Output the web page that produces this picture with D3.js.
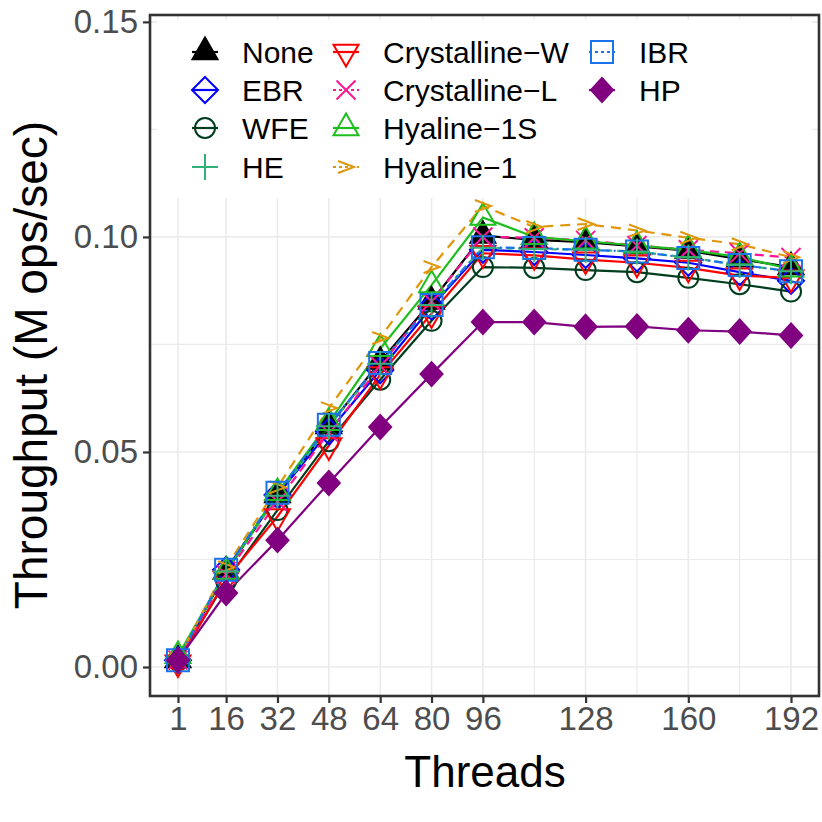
<!DOCTYPE html>
<html>
<head>
<meta charset="utf-8">
<script src="https://cdn.jsdelivr.net/npm/d3@7"></script>
<style>
  body { margin: 0; background: #fff; }
  text { font-family: "Liberation Sans", Arial, Helvetica, sans-serif; }
</style>
</head>
<body>
<svg id="chart" width="822" height="822"></svg>
<script>
// thread counts on the x axis
const threads = [1, 16, 32, 48, 64, 80, 96, 112, 128, 144, 160, 176, 192];
const xTicks = [1, 16, 32, 48, 64, 80, 96, 128, 160, 192];
const xMinor = [112, 144, 176];
const yTicks = [0, 0.05, 0.10, 0.15];
const yMinor = [0.025, 0.075, 0.125];

// throughput (M ops/sec)
const noneVals   = [0.0016, 0.0222, 0.0400, 0.0560, 0.0710, 0.0850, 0.1003, 0.0993, 0.0988, 0.0978, 0.0968, 0.0948, 0.0930];
const ebrVals    = [0.0016, 0.0226, 0.0400, 0.0548, 0.0690, 0.0838, 0.0970, 0.0965, 0.0958, 0.0950, 0.0940, 0.0918, 0.0898];
const wfeVals    = [0.0015, 0.0200, 0.0365, 0.0525, 0.0668, 0.0805, 0.0930, 0.0928, 0.0923, 0.0918, 0.0905, 0.0890, 0.0873];
const heVals     = [0.0016, 0.0222, 0.0398, 0.0560, 0.0705, 0.0842, 0.0975, 0.0972, 0.0970, 0.0966, 0.0952, 0.0935, 0.0920];
const crysWVals  = [0.0010, 0.0205, 0.0350, 0.0515, 0.0680, 0.0822, 0.0962, 0.0957, 0.0947, 0.0940, 0.0928, 0.0910, 0.0905];
const crysLVals  = [0.0016, 0.0215, 0.0385, 0.0545, 0.0700, 0.0850, 0.1000, 0.0998, 0.0992, 0.0980, 0.0970, 0.0962, 0.0952];
const hyal1SVals = [0.0026, 0.0222, 0.0405, 0.0568, 0.0740, 0.0888, 0.1045, 0.1000, 0.0990, 0.0980, 0.0970, 0.0953, 0.0925];
const hyal1Vals  = [0.0018, 0.0232, 0.0418, 0.0602, 0.0765, 0.0930, 0.1072, 0.1023, 0.1030, 0.1015, 0.0998, 0.0983, 0.0953];
const ibrVals    = [0.0016, 0.0226, 0.0405, 0.0563, 0.0707, 0.0842, 0.0976, 0.0974, 0.0970, 0.0966, 0.0951, 0.0935, 0.0920];
const hpVals     = [0.0016, 0.0172, 0.0295, 0.0428, 0.0558, 0.0681, 0.0802, 0.0802, 0.0791, 0.0792, 0.0783, 0.0780, 0.0771];

const seriesNames = ['None', 'EBR', 'WFE', 'HE', 'Crystalline-W', 'Crystalline-L', 'Hyaline-1S', 'Hyaline-1', 'IBR', 'HP'];
const seriesVals = [noneVals, ebrVals, wfeVals, heVals, crysWVals, crysLVals, hyal1SVals, hyal1Vals, ibrVals, hpVals];

const colorScale = d3.scaleOrdinal()
  .domain(seriesNames)
  .range(['#000000', '#0000FF', '#003D1F', '#33B07A', '#FF0000', '#FF1493', '#1EBE1E', '#E0960A', '#1A73E8', '#800080']);

const dashes = {
  'None': null, 'EBR': null, 'WFE': null, 'HE': '6,5',
  'Crystalline-W': null, 'Crystalline-L': '9,6', 'Hyaline-1S': null,
  'Hyaline-1': '10,7', 'IBR': '2,4,9,4', 'HP': null
};

// marker paths (centred on 0,0)
const shapes = {
  'None': {d: 'M0,-14.4L12.5,7.2L-12.5,7.2Z', fill: true},
  'EBR': {d: 'M0,-13L13,0L0,13L-13,0Z', fill: false},
  'WFE': {d: 'M10,0A10,10 0 1,1 -10,0A10,10 0 1,1 10,0Z', fill: false},
  'HE': {d: 'M-13,0L13,0M0,-13L0,13', fill: false},
  'Crystalline-W': {d: 'M0,14.4L12.5,-7.2L-12.5,-7.2Z', fill: false},
  'Crystalline-L': {d: 'M-9.5,-9.5L9.5,9.5M-9.5,9.5L9.5,-9.5', fill: false},
  'Hyaline-1S': {d: 'M0,-14.4L12.5,7.2L-12.5,7.2Z', fill: false},
  'Hyaline-1': {d: 'M-8,-6L8,0L-8,6', fill: false},
  'IBR': {d: 'M-11,-11L11,-11L11,11L-11,11Z', fill: false},
  'HP': {d: 'M0,-12L11,0L0,12L-11,0Z', fill: true}
};

const data = seriesNames.map((name, i) => ({
  key: name,
  values: threads.map((t, j) => ({key: t, value: seriesVals[i][j]}))
}));

const svg = d3.select('#chart');
const panel = {left: 150, right: 819, top: 15, bottom: 696};

const xScale = d3.scaleLinear().domain([-7.72, 200.72]).range([panel.left, panel.right]);
const yScale = d3.scaleLinear().domain([-0.00674, 0.1516]).range([panel.bottom, panel.top]);

// background grid
const grid = svg.append('g').attr('class', 'grid');
grid.selectAll('.gx-minor').data(xMinor).enter().append('line')
  .attr('x1', d => xScale(d)).attr('x2', d => xScale(d))
  .attr('y1', panel.top).attr('y2', panel.bottom)
  .attr('stroke', '#EBEBEB').attr('stroke-width', 1.2);
grid.selectAll('.gy-minor').data(yMinor).enter().append('line')
  .attr('y1', d => yScale(d)).attr('y2', d => yScale(d))
  .attr('x1', panel.left).attr('x2', panel.right)
  .attr('stroke', '#EBEBEB').attr('stroke-width', 1.2);
grid.selectAll('.gx').data(xTicks).enter().append('line')
  .attr('x1', d => xScale(d)).attr('x2', d => xScale(d))
  .attr('y1', panel.top).attr('y2', panel.bottom)
  .attr('stroke', '#EBEBEB').attr('stroke-width', 1.6);
grid.selectAll('.gy').data(yTicks).enter().append('line')
  .attr('y1', d => yScale(d)).attr('y2', d => yScale(d))
  .attr('x1', panel.left).attr('x2', panel.right)
  .attr('stroke', '#EBEBEB').attr('stroke-width', 1.6);

// lines
const lineGenerator = d3.line()
  .x(d => xScale(d.key))
  .y(d => yScale(d.value));

svg.append('g').selectAll('.line-path').data(data).enter().append('path')
  .attr('class', 'line-path')
  .attr('d', d => lineGenerator(d.values))
  .attr('fill', 'none')
  .attr('stroke', d => colorScale(d.key))
  .attr('stroke-width', 2.2)
  .attr('stroke-dasharray', d => dashes[d.key]);

// points
const pointOrder = ['None', 'EBR', 'WFE', 'Crystalline-W', 'Crystalline-L', 'Hyaline-1S', 'Hyaline-1', 'IBR', 'HE', 'HP'];
const pointsG = svg.append('g');
pointOrder.forEach(name => {
  const s = data.find(d => d.key === name);
  const sh = shapes[name];
  pointsG.selectAll('.pt-' + seriesNames.indexOf(name)).data(s.values).enter().append('path')
    .attr('transform', d => `translate(${xScale(d.key)},${yScale(d.value)})`)
    .attr('d', sh.d)
    .attr('fill', sh.fill ? colorScale(name) : 'none')
    .attr('stroke', colorScale(name))
    .attr('stroke-width', 2);
});

// legend (white box over the grid)
const legendCols = [[0, 1, 2, 3], [4, 5, 6, 7], [8, 9]];
const colX = [205, 346, 602];
const rowY = [52, 90, 128, 167];
const legendG = svg.append('g').attr('class', 'legend');
legendG.append('rect')
  .attr('x', 157).attr('y', 20).attr('width', 655).attr('height', 178)
  .attr('fill', '#fff');
legendCols.forEach((col, c) => {
  col.forEach((idx, r) => {
    const name = seriesNames[idx];
    const k = legendG.append('g').attr('transform', `translate(${colX[c]},${rowY[r]})`);
    k.append('line')
      .attr('x1', -13).attr('x2', 13)
      .attr('stroke', colorScale(name))
      .attr('stroke-width', 2.2)
      .attr('stroke-dasharray', dashes[name] ? '3,3' : null);
    k.append('path')
      .attr('d', shapes[name].d)
      .attr('fill', shapes[name].fill ? colorScale(name) : 'none')
      .attr('stroke', colorScale(name))
      .attr('stroke-width', 2);
    k.append('text')
      .attr('x', 37).attr('y', 11)
      .attr('font-size', 30)
      .attr('fill', '#000')
      .text(name.replace('-', '\u2212'));
  });
});

// panel border
svg.append('rect')
  .attr('x', panel.left).attr('y', panel.top)
  .attr('width', panel.right - panel.left).attr('height', panel.bottom - panel.top)
  .attr('fill', 'none').attr('stroke', '#333333').attr('stroke-width', 2.6);

// axes
const xAxis = d3.axisBottom(xScale).tickValues(xTicks).tickSize(6).tickPadding(4).tickFormat(d3.format('d'));
const xAxisG = svg.append('g').attr('class', 'xAxis')
  .attr('transform', `translate(0,${panel.bottom + 1})`)
  .call(xAxis);
xAxisG.select('.domain').remove();
xAxisG.selectAll('line').attr('stroke', '#333333').attr('stroke-width', 2.2);
xAxisG.selectAll('text').attr('fill', '#4D4D4D').attr('font-size', 33)
  .attr('font-family', '"Liberation Sans", Arial, sans-serif');

const yAxis = d3.axisLeft(yScale).tickValues(yTicks).tickSize(6).tickPadding(5).tickFormat(d3.format('.2f'));
const yAxisG = svg.append('g').attr('class', 'yAxis')
  .attr('transform', `translate(${panel.left - 1},0)`)
  .call(yAxis);
yAxisG.select('.domain').remove();
yAxisG.selectAll('line').attr('stroke', '#333333').attr('stroke-width', 2.2);
yAxisG.selectAll('text').attr('fill', '#4D4D4D').attr('font-size', 33)
  .attr('font-family', '"Liberation Sans", Arial, sans-serif');

// axis titles
svg.append('text')
  .attr('x', 485).attr('y', 787)
  .attr('text-anchor', 'middle')
  .attr('font-size', 44)
  .attr('fill', '#000')
  .text('Threads');

svg.append('text')
  .attr('transform', `translate(47,365) rotate(270)`)
  .attr('text-anchor', 'middle')
  .attr('font-size', 46)
  .attr('fill', '#000')
  .text('Throughput (M ops/sec)');
</script>
</body>
</html>
